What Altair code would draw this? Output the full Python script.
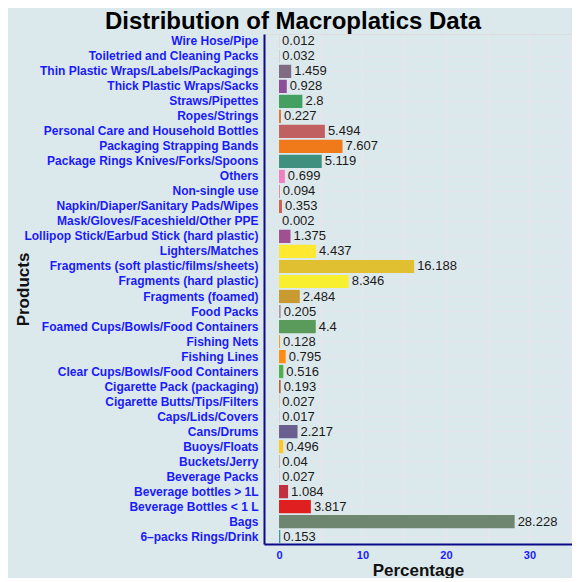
import altair as alt
import pandas as pd

products = [
    "Wire Hose/Pipe",
    "Toiletried and Cleaning Packs",
    "Thin Plastic Wraps/Labels/Packagings",
    "Thick Plastic Wraps/Sacks",
    "Straws/Pipettes",
    "Ropes/Strings",
    "Personal Care and Household Bottles",
    "Packaging Strapping Bands",
    "Package Rings Knives/Forks/Spoons",
    "Others",
    "Non-single use",
    "Napkin/Diaper/Sanitary Pads/Wipes",
    "Mask/Gloves/Faceshield/Other PPE",
    "Lollipop Stick/Earbud Stick (hard plastic)",
    "Lighters/Matches",
    "Fragments (soft plastic/films/sheets)",
    "Fragments (hard plastic)",
    "Fragments (foamed)",
    "Food Packs",
    "Foamed Cups/Bowls/Food Containers",
    "Fishing Nets",
    "Fishing Lines",
    "Clear Cups/Bowls/Food Containers",
    "Cigarette Pack (packaging)",
    "Cigarette Butts/Tips/Filters",
    "Caps/Lids/Covers",
    "Cans/Drums",
    "Buoys/Floats",
    "Buckets/Jerry",
    "Beverage Packs",
    "Beverage bottles > 1L",
    "Beverage Bottles < 1 L",
    "Bags",
    "6\u2013packs Rings/Drink",
]

percentages = [
    0.012, 0.032, 1.459, 0.928, 2.8, 0.227, 5.494, 7.607, 5.119, 0.699,
    0.094, 0.353, 0.002, 1.375, 4.437, 16.188, 8.346, 2.484, 0.205, 4.4,
    0.128, 0.795, 0.516, 0.193, 0.027, 0.017, 2.217, 0.496, 0.04, 0.027,
    1.084, 3.817, 28.228, 0.153,
]

colors = [
    "#e0607a", "#9a9a9a", "#7f6b82", "#8e4f9a", "#44a060", "#e07030",
    "#c06060", "#f07a1a", "#409080", "#f080c0", "#e070a0", "#d06050",
    "#c08080", "#a05090", "#ffe830", "#e0c030", "#f8ef30", "#c89a30",
    "#b090a0", "#5a9a5a", "#f0a020", "#ff8c10", "#50b050", "#b06030",
    "#c08040", "#5080b0", "#6a6090", "#ffc820", "#905070", "#c090b0",
    "#c03040", "#e02020", "#6e8570", "#4090a0",
]

labels = [f"{v:g}" for v in percentages]

df = pd.DataFrame({"Product": products, "Percentage": percentages, "Label": labels})

FONT = "Liberation Sans"

x_enc = alt.X(
    "Percentage:Q",
    scale=alt.Scale(domain=[-1.8, 35.1], nice=False, zero=False),
    axis=alt.Axis(
        values=[0, 5, 10, 15, 20, 25, 30, 35],
        labelExpr="datum.value % 10 == 0 ? datum.label : ''",
        title="Percentage",
        titleFontSize=17,
        titleFont=FONT,
        titleFontWeight="bold",
        titleColor="#111111",
        titlePadding=2,
        labelFont=FONT,
        labelFontSize=11,
        labelFontWeight="bold",
        labelColor="#1a1aff",
        labelPadding=5,
        ticks=False,
        domainColor="#0b0b8a",
        domainWidth=2,
        grid=True,
        gridColor="#e6e6ea",
        gridWidth=1.2,
    ),
)

y_enc = alt.Y(
    "Product:N",
    sort=products,
    scale=alt.Scale(paddingInner=0.12, paddingOuter=0.05),
    axis=alt.Axis(
        title="Products",
        titleFontSize=17,
        titleFont=FONT,
        titleFontWeight="bold",
        titleColor="#111111",
        titlePadding=32,
        labelFont=FONT,
        labelFontSize=12,
        labelFontWeight="bold",
        labelColor="#1a1aff",
        labelLimit=400,
        labelPadding=6,
        ticks=False,
        domainColor="#0b0b8a",
        domainWidth=2,
        grid=True,
        gridColor="#e6e6ea",
        gridWidth=1,
    ),
)

bars = alt.Chart(df).mark_bar().encode(
    x=x_enc,
    x2=alt.datum(0),
    y=y_enc,
    color=alt.Color(
        "Product:N",
        scale=alt.Scale(domain=products, range=colors),
        legend=None,
    ),
)

text = alt.Chart(df).mark_text(
    align="left", baseline="middle", dx=3, fontSize=13, font=FONT, color="#1a1a1a"
).encode(
    x="Percentage:Q",
    y=alt.Y("Product:N", sort=products),
    text="Label:N",
)

chart = (
    alt.layer(bars, text)
    .properties(
        width=308,
        height=510,
        background="#dce9ec",
        title=alt.TitleParams(
            "Distribution of Macroplatics Data",
            fontSize=24,
            font=FONT,
            fontWeight="bold",
            color="#000000",
            anchor="middle",
            frame="bounds",
            offset=0,
        ),
    )
    .configure_view(fill="#eceef2", stroke=None)
    .configure(padding={"left": 6, "top": 2, "right": 0, "bottom": 0})
)

chart.save("out.html", embed_options={"renderer": "svg", "actions": False})
